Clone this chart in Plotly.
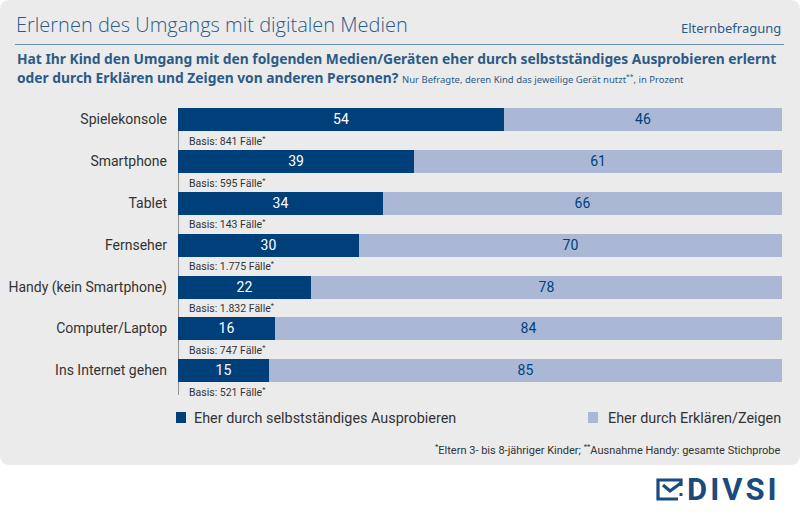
import plotly.graph_objects as go

categories = ["Spielekonsole", "Smartphone", "Tablet", "Fernseher",
              "Handy (kein Smartphone)", "Computer/Laptop", "Ins Internet gehen"]
selbst = [54, 39, 34, 30, 22, 16, 15]
erklaeren = [46, 61, 66, 70, 78, 84, 85]
basis = ["841", "595", "143", "1.775", "1.832", "747", "521"]
series_names = ["Eher durch selbstständiges Ausprobieren", "Eher durch Erklären/Zeigen"]

W, H = 800, 515
DARK = "#00407a"
LIGHT = "#aab8d6"
TITLE_C = "#2b5b88"
TEXT_C = "#333333"
FONT = "Open Sans, sans-serif"
FONT2 = "Noto Sans, sans-serif"

def cond(t, pct=75):
    return f"<span style='font-stretch:{pct}%'>{t}</span>"

def px(x):
    return x / W

def py(y):
    return 1 - y / H

ypos = list(range(len(categories)))
STEP = 41.8
TOP = 119.5 - 0.5 * STEP
YMAX = 6.7
BOTTOM = TOP + (YMAX + 0.5) * STEP

fig = go.Figure()
fig.add_trace(go.Bar(
    y=ypos, x=selbst, orientation="h", name=series_names[0],
    marker=dict(color=DARK, line=dict(width=0)), width=0.55,
    text=[str(v) for v in selbst], textposition="inside", insidetextanchor="middle",
    textfont=dict(color="white", size=14, family="Roboto"), cliponaxis=False,
))
fig.add_trace(go.Bar(
    y=ypos, x=erklaeren, orientation="h", name=series_names[1],
    marker=dict(color=LIGHT, line=dict(width=0)), width=0.55,
    text=[str(v) for v in erklaeren], textposition="inside", insidetextanchor="middle",
    textfont=dict(color=DARK, size=14, family="Roboto"), cliponaxis=False,
))

shapes = []
r_x, r_y = 10 / W, 10 / H
x0, x1, y0, y1 = 0, 1, py(465), 1
path = (f"M {x0+r_x},{y1} L {x1-r_x},{y1} Q {x1},{y1} {x1},{y1-r_y} "
        f"L {x1},{y0+r_y} Q {x1},{y0} {x1-r_x},{y0} L {x0+r_x},{y0} "
        f"Q {x0},{y0} {x0},{y0+r_y} L {x0},{y1-r_y} Q {x0},{y1} {x0+r_x},{y1} Z")
shapes.append(dict(type="path", path=path, xref="paper", yref="paper",
                   fillcolor="#ebebeb", line=dict(width=0), layer="below"))
shapes.append(dict(type="line", xref="paper", yref="paper", x0=px(15), x1=px(784),
                   y0=py(44.5), y1=py(44.5), line=dict(color="#6a8fb0", width=1)))
shapes.append(dict(type="line", xref="x", yref="y", x0=0, x1=0, y0=-0.275, y1=6.59,
                   line=dict(color="#3a3a3a", width=1), layer="below"))
shapes.append(dict(type="rect", xref="paper", yref="paper", x0=px(176), x1=px(186),
                   y0=py(423), y1=py(412), fillcolor=DARK, line=dict(width=0)))
shapes.append(dict(type="rect", xref="paper", yref="paper", x0=px(588), x1=px(598),
                   y0=py(423), y1=py(412), fillcolor=LIGHT, line=dict(width=0)))
LOGO = "#1b4a7c"
icon = (f"M {px(681)},{py(486)} L {px(681)},{py(480)} L {px(658)},{py(480)} "
        f"L {px(658)},{py(499)} L {px(678)},{py(499)}")
shapes.append(dict(type="path", path=icon, xref="paper", yref="paper",
                   line=dict(color=LOGO, width=3.2)))
check = f"M {px(663)},{py(485)} L {px(670)},{py(491)} L {px(681)},{py(483)}"
shapes.append(dict(type="path", path=check, xref="paper", yref="paper",
                   line=dict(color=LOGO, width=3.2)))
shapes.append(dict(type="rect", xref="paper", yref="paper", x0=px(679.5), x1=px(682.5),
                   y0=py(496), y1=py(493), fillcolor=LOGO, line=dict(width=0)))

annotations = []
annotations.append(dict(text="Erlernen des Umgangs mit digitalen Medien", xref="paper", yref="paper",
                        x=px(14), y=py(25), xanchor="left", yanchor="middle", showarrow=False,
                        font=dict(size=20, color=TITLE_C, family=FONT, weight=300)))
annotations.append(dict(text=cond("Elternbefragung"), xref="paper", yref="paper",
                        x=px(783), y=py(28), xanchor="right", yanchor="middle", showarrow=False,
                        font=dict(size=13, color=TITLE_C, family=FONT2)))
annotations.append(dict(
    text=cond("<b>Hat Ihr Kind den Umgang mit den folgenden Medien/Geräten eher durch selbstständiges Ausprobieren erlernt</b>"),
    xref="paper", yref="paper", x=px(15), y=py(59), xanchor="left", yanchor="middle", showarrow=False,
    font=dict(size=13.8, color=TITLE_C, family=FONT2)))
annotations.append(dict(
    text=cond("<b>oder durch Erklären und Zeigen von anderen Personen?</b> "
              "<span style='font-size:9.5px'>Nur Befragte, deren Kind das jeweilige Gerät nutzt<sup>**</sup>, in Prozent</span>"),
    xref="paper", yref="paper", x=px(15), y=py(77), xanchor="left", yanchor="middle", showarrow=False,
    font=dict(size=13.8, color=TITLE_C, family=FONT2)))

for i, b in enumerate(basis):
    annotations.append(dict(text=f"Basis: {b} Fälle<sup>*</sup>", xref="x", yref="y",
                            x=1.45, y=i + 0.51, xanchor="left", yanchor="middle", showarrow=False,
                            font=dict(size=10.5, color=TEXT_C, family="Roboto")))

annotations.append(dict(text=series_names[0], xref="paper", yref="paper", x=px(192), y=py(418),
                        xanchor="left", yanchor="middle", showarrow=False,
                        font=dict(size=14.4, color=TEXT_C, family="Roboto")))
annotations.append(dict(text=series_names[1], xref="paper", yref="paper", x=px(783), y=py(418),
                        xanchor="right", yanchor="middle", showarrow=False,
                        font=dict(size=14.4, color=TEXT_C, family="Roboto")))
annotations.append(dict(text="<sup>*</sup>Eltern 3- bis 8-jähriger Kinder; <sup>**</sup>Ausnahme Handy: gesamte Stichprobe",
                        xref="paper", yref="paper", x=px(783), y=py(449),
                        xanchor="right", yanchor="middle", showarrow=False,
                        font=dict(size=11, color=TEXT_C, family="Roboto")))
annotations.append(dict(text="<span style='letter-spacing:3px'><b>DIVSI</b></span>", xref="paper", yref="paper",
                        x=px(685), y=py(489), xanchor="left", yanchor="middle", showarrow=False,
                        font=dict(size=31, color=LOGO, family="Roboto")))

fig.update_layout(
    width=W, height=H, barmode="stack", bargap=0,
    paper_bgcolor="white", plot_bgcolor="rgba(0,0,0,0)",
    margin=dict(l=0, r=0, t=0, b=0), showlegend=False,
    font=dict(family="Roboto", color=TEXT_C),
    xaxis=dict(domain=[px(178), px(782)], range=[0, 100], visible=False, fixedrange=True),
    yaxis=dict(domain=[py(BOTTOM), py(TOP)], range=[YMAX, -0.5], tickmode="array",
               tickvals=ypos, ticktext=categories, showgrid=False, zeroline=False,
               showline=False, ticks="", ticklabelstandoff=10,
               tickfont=dict(size=14, color=TEXT_C, family="Roboto")),
    shapes=shapes, annotations=annotations,
)

fig.write_html("out.html", config={"displayModeBar": False},
               post_script="document.body.style.margin='0';document.body.style.overflow='hidden';")
